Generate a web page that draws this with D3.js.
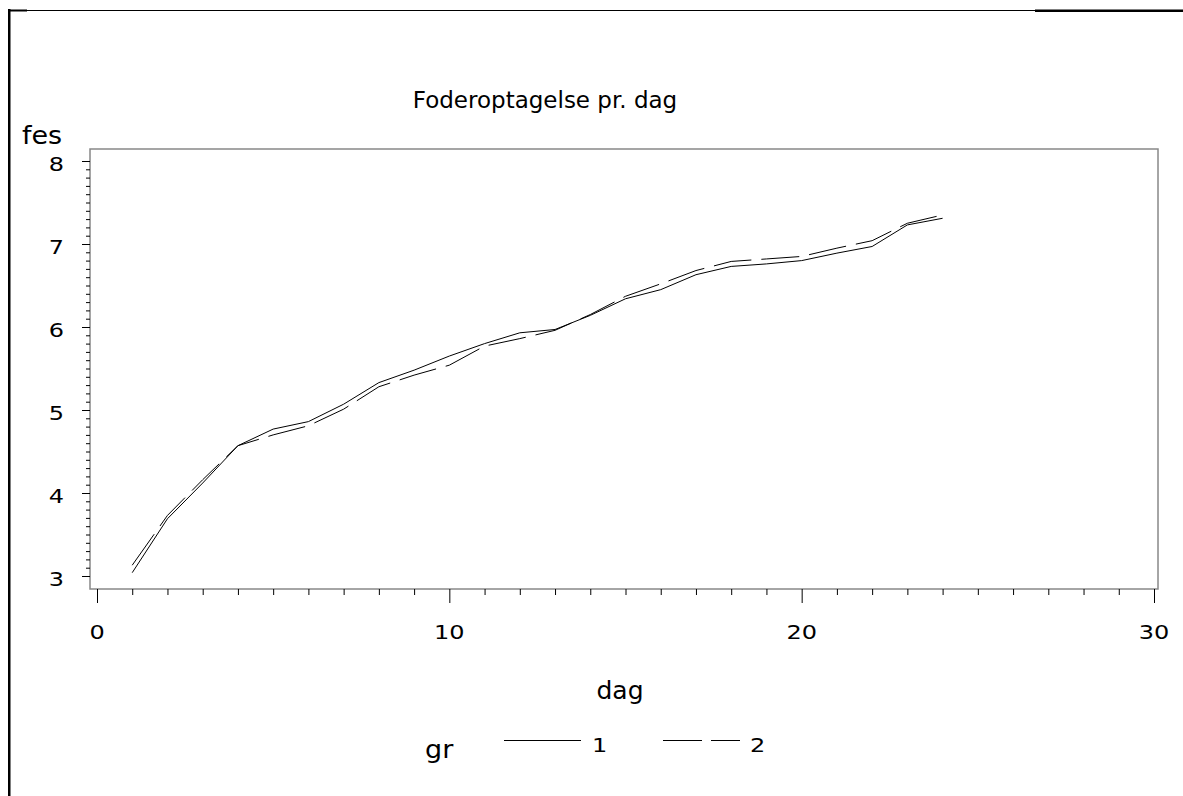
<!DOCTYPE html>
<html>
<head>
<meta charset="utf-8">
<script src="https://cdn.jsdelivr.net/npm/d3@7"></script>
<style>
  body { margin: 0; background: #fff; }
  text { font-family: "DejaVu Sans", Verdana, sans-serif; fill: #000; }
</style>
</head>
<body>
<div id="chart"></div>
<script>
// days and the two groups (gr 1 solid, gr 2 dashed)
var dag = [1,2,3,4,5,6,7,8,9,10,11,12,13,14,15,16,17,18,19,20,21,22,23,24];
var gr1 = [3.04,3.69,4.12,4.57,4.77,4.86,5.07,5.33,5.48,5.65,5.80,5.93,5.97,6.14,6.34,6.45,6.63,6.73,6.76,6.80,6.89,6.97,7.23,7.31];
var gr2 = [3.13,3.73,4.16,4.57,4.70,4.81,5.01,5.28,5.42,5.54,5.77,5.86,5.96,6.15,6.37,6.52,6.68,6.79,6.82,6.85,6.95,7.04,7.25,7.35];
var xTickLabels = [0,10,20,30];
var yTickLabels = [3,4,5,6,7,8];

var width = 1183, height = 796;
var stretch = 1.2; // the original glyphs are a bit wider than DejaVu

var svg = d3.select("#chart").append("svg")
    .attr("width", width)
    .attr("height", height);

var x = d3.scaleLinear().domain([0, 30]).range([97, 1154]);
var y = d3.scaleLinear().domain([3, 8]).range([576, 161]);

// helper: text placed at (px,py) and widened horizontally
function wideText(sel, px, py, sx) {
  return sel.attr("transform", function(d) {
    return "translate(" + px(d) + "," + py(d) + ") scale(" + sx + ",1)";
  });
}

// outer frame (top + left edge)
svg.append("path")
    .attr("d", "M9,796V10.5H1183")
    .attr("fill", "none")
    .attr("stroke", "#000")
    .attr("stroke-width", 1.2);
svg.append("rect").attr("x", 8).attr("y", 9).attr("width", 2.5).attr("height", 787).attr("fill", "#000");
svg.append("rect").attr("x", 8).attr("y", 9.5).attr("width", 19).attr("height", 2).attr("fill", "#000");
svg.append("rect").attr("x", 1035).attr("y", 9.5).attr("width", 148).attr("height", 2.5).attr("fill", "#000");

// plot frame
svg.append("rect")
    .attr("x", 90)
    .attr("y", 149)
    .attr("width", 1158 - 90)
    .attr("height", 589 - 149)
    .attr("fill", "none")
    .attr("stroke", "#888")
    .attr("stroke-width", 1.5);

// title
svg.append("text")
    .attr("x", 545)
    .attr("y", 108)
    .attr("text-anchor", "middle")
    .style("font-size", "23px")
    .text("Foderoptagelse pr. dag");

// y axis: minor tick every 0.1, label on whole numbers
var yAxis = d3.axisLeft(y)
    .tickValues(d3.range(30, 81).map(function(d) { return d / 10; }))
    .tickSize(4)
    .tickFormat("");
svg.append("g")
    .attr("transform", "translate(90,0)")
    .call(yAxis)
    .call(function(g) { g.select(".domain").remove(); })
    .selectAll("line")
    .attr("stroke", "#000")
    .attr("x2", function(d) { return Math.abs(d - Math.round(d)) < 1e-6 ? -8 : -4; });

wideText(svg.append("g").selectAll("text")
    .data(yTickLabels)
    .enter().append("text"),
    function() { return 64; },
    function(d) { return y(d) + 10; }, stretch)
    .attr("text-anchor", "end")
    .style("font-size", "20px")
    .text(String);

svg.append("text")
    .attr("transform", "translate(22,144) scale(1.08,1)")
    .style("font-size", "25px")
    .text("fes");

// x axis: tick on each day, longer ones at 10s
var xAxis = d3.axisBottom(x)
    .tickValues(d3.range(0, 31))
    .tickSize(6)
    .tickFormat("");
svg.append("g")
    .attr("transform", "translate(0,589)")
    .call(xAxis)
    .call(function(g) { g.select(".domain").remove(); })
    .selectAll("line")
    .attr("stroke", "#000")
    .attr("y2", function(d) { return d % 10 === 0 ? 14 : 6; });

wideText(svg.append("g").selectAll("text")
    .data(xTickLabels)
    .enter().append("text"),
    function(d) { return x(d); },
    function() { return 639; }, stretch)
    .attr("text-anchor", "middle")
    .style("font-size", "20px")
    .text(String);

svg.append("text")
    .attr("x", 620)
    .attr("y", 699)
    .attr("text-anchor", "middle")
    .style("font-size", "25px")
    .text("dag");

// the two series
var line = d3.line()
    .x(function(d) { return x(d[0]); })
    .y(function(d) { return y(d[1]); });

svg.append("path")
    .datum(dag.map(function(d, i) { return [d, gr1[i]]; }))
    .attr("d", line)
    .attr("fill", "none")
    .attr("stroke", "#000")
    .attr("stroke-width", 1);

svg.append("path")
    .datum(dag.map(function(d, i) { return [d, gr2[i]]; }))
    .attr("d", line)
    .attr("fill", "none")
    .attr("stroke", "#000")
    .attr("stroke-width", 1)
    .attr("stroke-dasharray", "38,10");

// legend
svg.append("text")
    .attr("transform", "translate(425,758) scale(1.08,1)")
    .style("font-size", "25px")
    .text("gr");

svg.append("line")
    .attr("x1", 504).attr("x2", 581)
    .attr("y1", 740.5).attr("y2", 740.5)
    .attr("stroke", "#000");
svg.append("text")
    .attr("transform", "translate(592,752) scale(" + stretch + ",1)")
    .style("font-size", "20px")
    .text("1");

svg.append("line")
    .attr("x1", 663).attr("x2", 740)
    .attr("y1", 740.5).attr("y2", 740.5)
    .attr("stroke", "#000")
    .attr("stroke-dasharray", "39,9");
svg.append("text")
    .attr("transform", "translate(750,752) scale(" + stretch + ",1)")
    .style("font-size", "20px")
    .text("2");
</script>
</body>
</html>
